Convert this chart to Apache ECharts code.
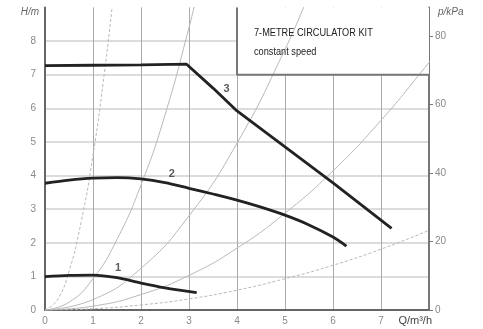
<!DOCTYPE html>
<html><head><meta charset="utf-8">
<script src="https://cdn.jsdelivr.net/npm/echarts@6/dist/echarts.min.js"></script>
<style>html,body{margin:0;padding:0;background:#fff}#c{width:483px;height:329px}</style>
</head><body><div id="c"></div>
<script>
// Pump curves [Q (m3/h), H (m)]
const pump1 = [[0,0.99],[0.5,1.03],[1,1.04],[1.5,0.96],[2,0.8],[2.5,0.66],[3.16,0.52]];
const pump2 = [[0,3.77],[0.5,3.86],[1,3.92],[1.5,3.94],[2,3.9],[2.5,3.79],[3,3.62],[3.5,3.45],[4,3.27],[4.5,3.06],[5,2.82],[5.5,2.53],[6,2.17],[6.28,1.9]];
const pump3 = [[0,7.27],[1,7.28],[2,7.29],[2.95,7.31],[3.5,6.6],[4,5.92],[5,4.85],[6,3.78],[7.22,2.43]];
// System curves (thin)
const sysA = [[0,0],[0.25,0.29],[0.5,1.15],[0.75,2.6],[1,4.6],[1.25,7.2],[1.42,9.3]];
const sysB = [[0,0],[0.5,0.23],[1,0.93],[1.5,2.1],[2,3.72],[2.5,5.8],[3,8.4],[3.15,9.3]];
const sysC = [[0,0],[1,0.31],[2,1.24],[3,2.8],[4,4.96],[5,7.75],[5.5,9.4]];
const sysD = [[0,0],[1,0.115],[2,0.46],[3,1.03],[4,1.84],[5,2.88],[6,4.14],[7,5.64],[8,7.36],[8.1,7.55]];
const sysE = [[0,0],[1,0.037],[2,0.15],[3,0.33],[4,0.59],[5,0.93],[6,1.33],[7,1.81],[8,2.37]];
// Curve labels
const curveLabels = [[1.52,1.25,'1'],[2.64,4.05,'2'],[3.78,6.57,'3']];
// Inset box (Q from, H from) to (Q to, H to)
const boxArea = [[4,7],[8,9]];
const boxBorder = [[4,9],[4,7],[8,7]];
const xTicks = [0,1,2,3,4,5,6,7];
const yTicks = [0,1,2,3,4,5,6,7,8];
const pTicks = [0,20,40,60,80];
const titleLines = ['7-METRE CIRCULATOR KIT','constant speed'];

const chart = echarts.init(document.getElementById('c'), null, {renderer:'canvas'});
const labelStyle = {color:'#8a8a8a', fontSize:10, fontFamily:'Liberation Sans'};
const sysStyle = (d, dashed) => ({type:'line', data:d, smooth:true, symbol:'none', silent:true,
  lineStyle:{color:'#b8b8b8', width:1, type: dashed ? [3,2] : 'solid'}, z:2});
const pumpStyle = (d, smooth) => ({type:'line', data:d, smooth:smooth, symbol:'none',
  lineStyle:{color:'#222', width:2.8}, z:5});
chart.setOption({
  animation:false,
  grid:{left:45, right:54, top:7.4, bottom:19},
  xAxis:{type:'value', min:0, max:8, interval:1,
    name:'Q/m³/h', nameLocation:'end', nameGap:3,
    nameTextStyle:{color:'#444', fontSize:11, fontFamily:'Liberation Sans', align:'right', verticalAlign:'top', padding:[5,0,0,0]},
    axisLine:{lineStyle:{color:'#666', width:2}},
    axisTick:{show:false},
    axisLabel:Object.assign({}, labelStyle, {margin:6, customValues:xTicks}),
    splitLine:{show:true, showMaxLine:false, lineStyle:{color:'#aaa', width:1}}},
  yAxis:[
   {type:'value', min:0, max:9, interval:1,
    name:'H/m', nameLocation:'end', nameGap:0,
    nameTextStyle:{color:'#666', fontSize:10, fontStyle:'italic', fontFamily:'Liberation Sans', align:'right', verticalAlign:'top', padding:[0,6,0,0]},
    axisLine:{show:true, lineStyle:{color:'#666', width:2}},
    axisTick:{show:false},
    axisLabel:Object.assign({}, labelStyle, {margin:9, customValues:yTicks}),
    splitLine:{show:true, showMaxLine:false, lineStyle:{color:'#d0d0d0', width:1.5}}},
   {type:'value', min:0, max:88.3, position:'right',
    name:'p/kPa', nameLocation:'end', nameGap:0,
    nameTextStyle:{color:'#666', fontSize:10, fontStyle:'italic', fontFamily:'Liberation Sans', align:'left', verticalAlign:'top', padding:[0,0,0,9]},
    axisLine:{show:true, lineStyle:{color:'#777', width:2}},
    axisTick:{show:true, length:4, customValues:pTicks, lineStyle:{color:'#777', width:1}},
    axisLabel:Object.assign({}, labelStyle, {margin:6, customValues:pTicks}),
    splitLine:{show:false}}
  ],
  series:[
    sysStyle(sysA, true), sysStyle(sysB, false), sysStyle(sysC, false), sysStyle(sysD, false), sysStyle(sysE, true),
    {type:'line', data:[], silent:true, z:3,
      markArea:{silent:true, itemStyle:{color:'#fff', borderWidth:0}, data:[[{coord:boxArea[0]},{coord:boxArea[1]}]]}},
    {type:'line', data:boxBorder, symbol:'none', silent:true, z:4, lineStyle:{color:'#777', width:2}},
    pumpStyle(pump1, 0.3), pumpStyle(pump2, 0.3), pumpStyle(pump3, false),
    {type:'scatter', data:curveLabels, symbolSize:0, z:6,
      label:{show:true, formatter:p=>p.data[2], color:'#333', fontSize:11, fontWeight:'bold', fontFamily:'Liberation Sans'}}
  ],
  graphic:[
    {type:'text', x:254, y:27, scaleX:0.8, z:100, style:{text:titleLines[0], fill:'#222', fontSize:11.5, fontFamily:'Liberation Sans'}},
    {type:'text', x:254, y:46, scaleX:0.8, z:100, style:{text:titleLines[1], fill:'#222', fontSize:11.5, fontFamily:'Liberation Sans'}}
  ]
});
</script></body></html>
